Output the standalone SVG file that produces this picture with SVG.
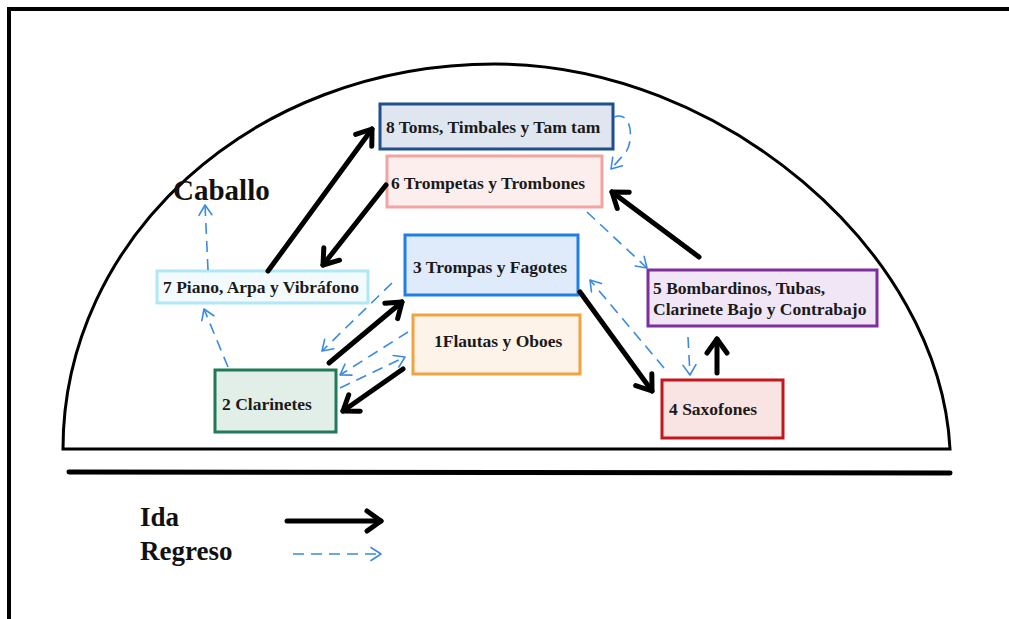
<svg xmlns="http://www.w3.org/2000/svg" width="1009" height="619" viewBox="0 0 1009 619">
<style>
.lbl{font-family:"Liberation Serif","Times New Roman",serif;font-weight:bold;font-size:17.5px;fill:#1a1a1a}
.big{font-family:"Liberation Serif","Times New Roman",serif;font-weight:bold;fill:#111}
.box{stroke-width:3}
.ida{fill:none;stroke:#000;stroke-width:5;stroke-linecap:round}
.reg{fill:none;stroke:#3a8be0;stroke-width:1.6;stroke-dasharray:11 7}
</style>
<defs>
<marker id="hs" markerUnits="userSpaceOnUse" orient="auto" overflow="visible" markerWidth="20" markerHeight="20" refX="0" refY="0">
<path d="M-14,-10 L0,0 L-14,10" fill="none" stroke="#000" stroke-width="5" stroke-linecap="round" stroke-linejoin="round"/>
</marker>
<marker id="hd" markerUnits="userSpaceOnUse" orient="auto" overflow="visible" markerWidth="20" markerHeight="20" refX="0" refY="0">
<path d="M-10,-6.5 L0,0 L-10,6.5" fill="none" stroke="#3a8be0" stroke-width="1.6" stroke-linecap="round" stroke-linejoin="round"/>
</marker>
</defs>
<rect width="1009" height="619" fill="#fff"/>
<path d="M9,619 V9 H1009" fill="none" stroke="#000" stroke-width="4"/>
<path d="M63,449 C63,240 250,64 495,64 C720,64 940,250 950,449 Z" fill="none" stroke="#000" stroke-width="3" stroke-linejoin="miter"/>
<line x1="69" y1="472" x2="950" y2="473" stroke="#000" stroke-width="5" stroke-linecap="round"/>
<text class="big" x="173" y="200" font-size="29">Caballo</text>

<g id="n8"><rect class="box" x="380" y="104" width="233" height="45" fill="#dfe6f0" stroke="#1f4e8c"/><text class="lbl" x="386" y="133">8 Toms, Timbales y Tam tam</text></g>
<g id="n6"><rect class="box" x="387" y="156" width="215" height="51" fill="#fdeeee" stroke="#f2a3a3"/><text class="lbl" x="391" y="189">6 Trompetas y Trombones</text></g>
<g id="n3"><rect class="box" x="405" y="235" width="173" height="60" fill="#dfeafa" stroke="#1f7fe5"/><text class="lbl" x="413" y="273">3 Trompas y Fagotes</text></g>
<g id="n7"><rect class="box" x="157" y="271" width="211" height="32" fill="#f4fbfe" stroke="#b0e8f6"/><text class="lbl" x="163" y="293">7 Piano, Arpa y Vibráfono</text></g>
<g id="n1"><rect class="box" x="413" y="315" width="167" height="59" fill="#fdf3e8" stroke="#f2a341"/><text class="lbl" x="434" y="347">1Flautas y Oboes</text></g>
<g id="n2"><rect class="box" x="215" y="370" width="121" height="62" fill="#e2efe9" stroke="#1f7a58"/><text class="lbl" x="222" y="410">2 Clarinetes</text></g>
<g id="n5"><rect class="box" x="648" y="270" width="229" height="56" fill="#f0e6f6" stroke="#7e2f9b"/><text class="lbl" x="653" y="294">5 Bombardinos, Tubas,</text><text class="lbl" x="653" y="315">Clarinete Bajo y Contrabajo</text></g>
<g id="n4"><rect class="box" x="662" y="380" width="121" height="58" fill="#f9e3e3" stroke="#c3161f"/><text class="lbl" x="669" y="415">4 Saxofones</text></g>

<g id="connectors">
<line class="ida" x1="268" y1="271" x2="372" y2="129" marker-end="url(#hs)"/>
<line class="ida" x1="386" y1="185" x2="323" y2="265" marker-end="url(#hs)"/>
<line class="ida" x1="699" y1="257" x2="612" y2="192" marker-end="url(#hs)"/>
<line class="ida" x1="329" y1="363" x2="402" y2="302" marker-end="url(#hs)"/>
<line class="ida" x1="403" y1="369" x2="343" y2="411" marker-end="url(#hs)"/>
<line class="ida" x1="580" y1="292" x2="652" y2="391" marker-end="url(#hs)"/>
<line class="ida" x1="717" y1="373" x2="717" y2="339" marker-end="url(#hs)"/>

<path class="reg" d="M614,117 C632,110 634,140 626,152 L611,169" marker-end="url(#hd)"/>
<line class="reg" x1="587" y1="212" x2="647" y2="268" marker-end="url(#hd)"/>
<line class="reg" x1="664" y1="368" x2="590" y2="280" marker-end="url(#hd)"/>
<line class="reg" x1="688" y1="337" x2="690" y2="375" marker-end="url(#hd)"/>
<line class="reg" x1="392" y1="283" x2="322" y2="351" marker-end="url(#hd)"/>
<line class="reg" x1="408" y1="332" x2="340" y2="375" marker-end="url(#hd)"/>
<line class="reg" x1="340" y1="388" x2="405" y2="357" marker-end="url(#hd)"/>
<line class="reg" x1="228" y1="367" x2="204" y2="309" marker-end="url(#hd)"/>
<line class="reg" x1="208" y1="270" x2="205" y2="205" marker-end="url(#hd)"/>
</g>

<g id="legend">
<text class="big" x="140" y="526" font-size="27">Ida</text>
<text class="big" x="140" y="560" font-size="27">Regreso</text>
<line class="ida" x1="287" y1="521" x2="381" y2="521" marker-end="url(#hs)"/>
<line class="reg" x1="293" y1="554" x2="381" y2="554" marker-end="url(#hd)"/>
</g>
</svg>
